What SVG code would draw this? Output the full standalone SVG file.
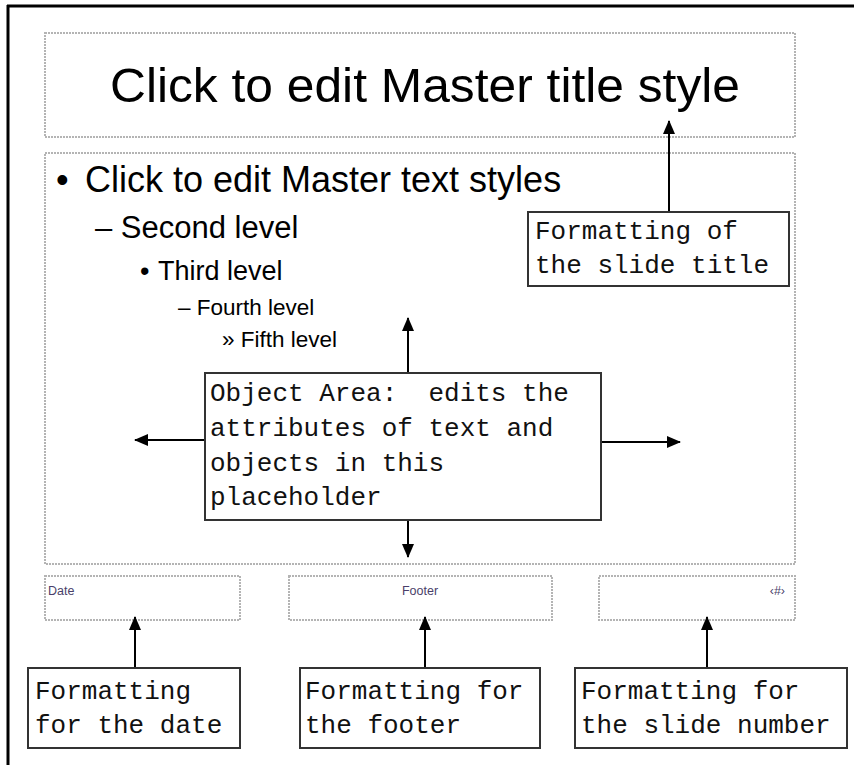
<svg xmlns="http://www.w3.org/2000/svg" width="854" height="765" viewBox="0 0 854 765">
<style>
.ph{fill:none;stroke:#b4b4b4;stroke-width:2;stroke-dasharray:2 1}
.box{fill:#fff;stroke:#333;stroke-width:2}
.mono{font-family:"Liberation Mono","Courier New",monospace;font-size:26px;fill:#111}
.sans{font-family:"Liberation Sans",Arial,sans-serif;fill:#000}
.small{font-family:"Liberation Sans",Arial,sans-serif;font-size:12.5px;fill:#4a3f6a}
.con{stroke:#000;stroke-width:2;fill:none;marker-end:url(#ah)}
</style>
<defs>
<marker id="ah" markerUnits="userSpaceOnUse" markerWidth="14" markerHeight="12" refX="13" refY="6" orient="auto">
<path d="M0,0 L14,6 L0,12 Z" fill="#000"/>
</marker>
</defs>
<rect width="854" height="765" fill="#fff"/>
<g id="frame">
<line x1="8" y1="5" x2="8" y2="765" stroke="#000" stroke-width="3"/>
<line x1="7" y1="6" x2="854" y2="6" stroke="#000" stroke-width="3"/>
</g>
<g id="title-placeholder">
<rect class="ph" x="45" y="33" width="750" height="104"/>
<text class="sans" x="110" y="102" font-size="49" textLength="630" lengthAdjust="spacingAndGlyphs">Click to edit Master title style</text>
</g>
<g id="body-placeholder">
<rect class="ph" x="45" y="153" width="750" height="411"/>
<text class="sans" x="56" y="192" font-size="36">•</text>
<text class="sans" x="85" y="192" font-size="36">Click to edit Master text styles</text>
<text class="sans" x="95" y="238" font-size="31">– Second level</text>
<text class="sans" x="140" y="280" font-size="27">•</text>
<text class="sans" x="158" y="280" font-size="27">Third level</text>
<text class="sans" x="178" y="315" font-size="22.5">– Fourth level</text>
<text class="sans" x="222" y="347" font-size="22.5">» Fifth level</text>
</g>
<g id="date-placeholder">
<rect class="ph" x="45" y="576" width="195" height="44"/>
<text class="small" x="48" y="595">Date</text>
</g>
<g id="footer-placeholder">
<rect class="ph" x="289" y="576" width="263" height="44"/>
<text class="small" x="420" y="595" text-anchor="middle">Footer</text>
</g>
<g id="number-placeholder">
<rect class="ph" x="599" y="576" width="196" height="44"/>
<text class="small" x="785" y="595" text-anchor="end">‹#›</text>
</g>
<g id="connectors">
<line class="con" x1="669" y1="212" x2="669" y2="121"/>
<line class="con" x1="408" y1="373" x2="408" y2="318"/>
<line class="con" x1="408" y1="520" x2="408" y2="557"/>
<line class="con" x1="205" y1="440" x2="135" y2="440"/>
<line class="con" x1="601" y1="442" x2="680" y2="442"/>
<line class="con" x1="135" y1="668" x2="135" y2="617"/>
<line class="con" x1="425" y1="668" x2="425" y2="617"/>
<line class="con" x1="707" y1="668" x2="707" y2="617"/>
</g>
<g id="title-note">
<rect class="box" x="528" y="212" width="261" height="74"/>
<text class="mono" x="535" y="239">Formatting of</text>
<text class="mono" x="535" y="273">the slide title</text>
</g>
<g id="object-note">
<rect class="box" x="205" y="373" width="396" height="147"/>
<text class="mono" x="210" y="401" xml:space="preserve">Object Area:  edits the</text>
<text class="mono" x="210" y="436">attributes of text and</text>
<text class="mono" x="210" y="471">objects in this</text>
<text class="mono" x="210" y="505">placeholder</text>
</g>
<g id="date-note">
<rect class="box" x="28" y="668" width="212" height="80"/>
<text class="mono" x="35" y="699">Formatting</text>
<text class="mono" x="35" y="733">for the date</text>
</g>
<g id="footer-note">
<rect class="box" x="300" y="668" width="240" height="80"/>
<text class="mono" x="305" y="699">Formatting for</text>
<text class="mono" x="305" y="733">the footer</text>
</g>
<g id="number-note">
<rect class="box" x="575" y="668" width="272" height="80"/>
<text class="mono" x="581" y="699">Formatting for</text>
<text class="mono" x="581" y="733">the slide number</text>
</g>
</svg>
